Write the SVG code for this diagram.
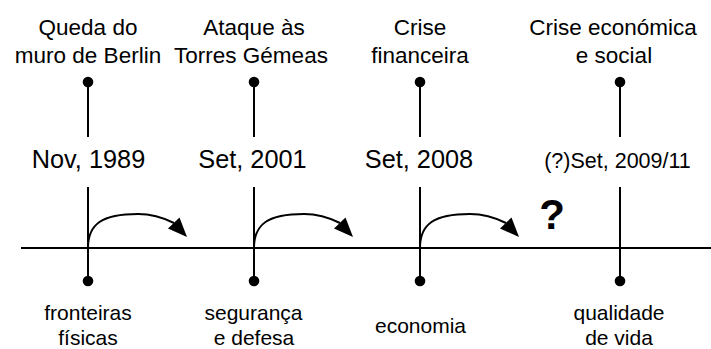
<svg xmlns="http://www.w3.org/2000/svg" width="711" height="349" viewBox="0 0 711 349">
<style>
text{font-family:"Liberation Sans",Arial,sans-serif;fill:#000;text-anchor:middle}
.t{font-size:22.5px}
.d{font-size:25.3px}
.b{font-size:21px}
.ln{stroke:#000;stroke-width:2;fill:none}
.dot{fill:#000}
.q{font-size:42px;font-weight:bold}
</style>
<defs>
<g id="arc">
<path class="ln" d="M0,248 C0,224 14,214 50,214 C64,214 76,218 86,223"/>
<polygon points="99,237 80,228.5 91.5,217.5" fill="#000"/>
</g>
</defs>
<rect width="711" height="349" fill="#fff"/>
<g id="connectors">
<line class="ln" x1="21" y1="248" x2="711" y2="248"/>
<use href="#arc" x="88"/>
<use href="#arc" x="254"/>
<use href="#arc" x="420"/>
</g>
<g id="n1">
<text class="t" x="88" y="35">Queda do</text>
<text class="t" x="88" y="63">muro de Berlin</text>
<circle class="dot" cx="88" cy="82" r="5.3"/>
<line class="ln" x1="88" y1="82" x2="88" y2="137"/>
<text class="d" x="88.5" y="168">Nov, 1989</text>
<line class="ln" x1="88" y1="187" x2="88" y2="281"/>
<circle class="dot" cx="88" cy="281" r="5.3"/>
<text class="b" x="88" y="320">fronteiras</text>
<text class="b" x="88" y="345">físicas</text>
</g>
<g id="n2">
<text class="t" x="254" y="35">Ataque às</text>
<text class="t" x="251" y="63">Torres Gémeas</text>
<circle class="dot" cx="254" cy="82" r="5.3"/>
<line class="ln" x1="254" y1="82" x2="254" y2="137"/>
<text class="d" x="252.5" y="168">Set, 2001</text>
<line class="ln" x1="254" y1="187" x2="254" y2="281"/>
<circle class="dot" cx="254" cy="281" r="5.3"/>
<text class="b" x="253.5" y="320">segurança</text>
<text class="b" x="254" y="345">e defesa</text>
</g>
<g id="n3">
<text class="t" x="420" y="35">Crise</text>
<text class="t" x="420" y="63">financeira</text>
<circle class="dot" cx="420" cy="82" r="5.3"/>
<line class="ln" x1="420" y1="82" x2="420" y2="137"/>
<text class="d" x="419" y="168">Set, 2008</text>
<line class="ln" x1="420" y1="187" x2="420" y2="281"/>
<circle class="dot" cx="420" cy="281" r="5.3"/>
<text class="b" x="420.5" y="333">economia</text>
</g>
<g id="n4">
<text class="t" x="613" y="35">Crise económica</text>
<text class="t" x="614" y="63">e social</text>
<circle class="dot" cx="620" cy="82" r="5.3"/>
<line class="ln" x1="620" y1="82" x2="620" y2="137"/>
<text class="b" x="617.5" y="168" style="font-size:21.5px">(?)Set, 2009/11</text>
<line class="ln" x1="620" y1="187" x2="620" y2="281"/>
<circle class="dot" cx="620" cy="281" r="5.3"/>
<text class="b" x="619" y="320">qualidade</text>
<text class="b" x="619" y="345">de vida</text>
</g>
<g id="q">
<text class="q" x="552" y="229">?</text>
</g>
</svg>
